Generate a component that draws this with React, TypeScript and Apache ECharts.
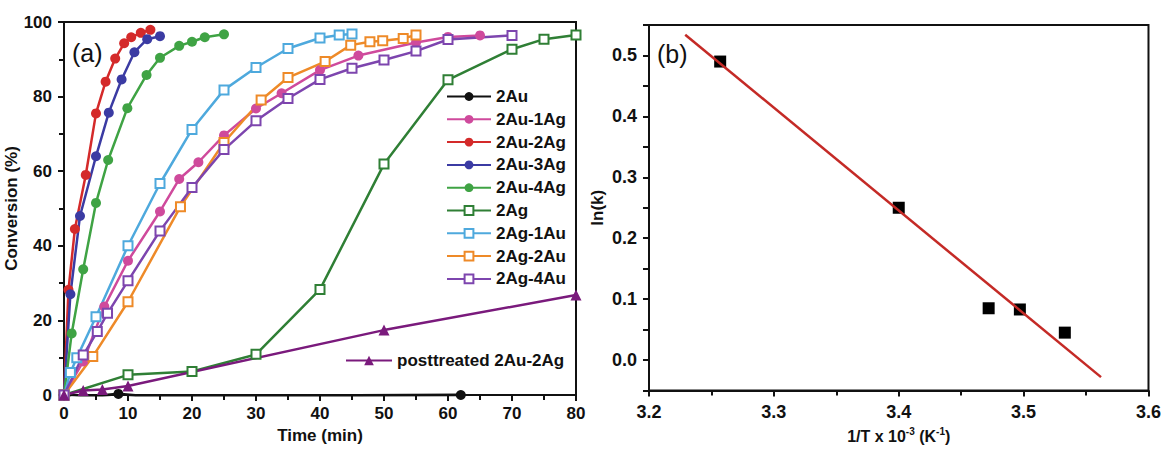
import React, { useEffect, useRef } from "react";
import * as echarts from "echarts";

// ---- Panel (a): conversion (%) vs time (min) ----
const S_2AU: number[][] = [[0, 0], [1.2, -0.9], [3.9, -0.5], [8.5, 0.3], [12.9, -0.4], [62, 0]];
const S_2AU_1AG: number[][] = [[0, 0], [3, 9], [6.3, 23.7], [10, 36], [15, 49.2], [18, 57.9], [21, 62.4], [25, 69.6], [30, 76.8], [34, 80.9], [40, 87.1], [46, 91], [55, 94.5], [60, 96], [65, 96.4]];
const S_2AU_2AG: number[][] = [[0, 0], [0.7, 28.2], [1.7, 44.5], [3.4, 59], [5, 75.5], [6.5, 84], [8, 90.2], [9.4, 94.3], [10.5, 95.9], [12, 97.1], [13.5, 97.9]];
const S_2AU_3AG: number[][] = [[0, 0], [1, 27], [2.5, 48], [5, 64], [7, 75.7], [9, 84.6], [11, 91.9], [13, 95.4], [15, 96.2]];
const S_2AU_4AG: number[][] = [[0, 0], [1.2, 16.5], [3, 33.7], [5, 51.5], [6.9, 63], [9.9, 76.9], [12.9, 85.8], [15, 90.4], [18, 93.6], [20, 94.7], [22, 95.9], [25, 96.7]];
const S_2AG: number[][] = [[0, 0], [10, 5.4], [20, 6.3], [30, 10.9], [40, 28.3], [50, 61.9], [60, 84.5], [70, 92.7], [75, 95.4], [80, 96.5]];
const S_2AG_1AU: number[][] = [[0, 0], [1, 6], [2, 10], [5, 21], [10, 40], [15, 56.7], [20, 71.2], [25, 81.8], [30, 87.8], [35, 92.9], [40, 95.7], [43, 96.5], [45, 96.8]];
const S_2AG_2AU: number[][] = [[0, 0], [4.5, 10.3], [10, 25], [18.2, 50.5], [25, 67.7], [30.8, 79.1], [35, 85.1], [40.8, 89.4], [44.8, 93.8], [47.8, 94.7], [49.8, 95], [53, 95.6], [55, 96.5]];
const S_2AG_4AU: number[][] = [[0, 0], [3, 10.7], [5.2, 17], [6.8, 21.9], [10, 30.6], [15, 44], [20, 55.6], [25, 65.8], [30, 73.5], [35, 79.5], [40, 84.6], [45, 87.6], [50, 89.8], [55, 92.2], [60, 95.3], [70, 96.4]];
const S_POST: number[][] = [[0, 0], [3, 1.2], [6, 1.5], [10, 2.4], [50, 17.4], [80, 26.8]];

const NAMES_A = ["2Au", "2Au-1Ag", "2Au-2Ag", "2Au-3Ag", "2Au-4Ag", "2Ag", "2Ag-1Au", "2Ag-2Au", "2Ag-4Au"];
const NAME_POST = "posttreated 2Au-2Ag";
const COLORS_A = ["#111111", "#cf4a9c", "#d42a2a", "#3b3ba3", "#3fa344", "#2f7f35", "#4ea9dd", "#ee8a28", "#7d45ae"];
const COLOR_POST = "#7a1a7c";
const DATA_A = [S_2AU, S_2AU_1AG, S_2AU_2AG, S_2AU_3AG, S_2AU_4AG, S_2AG, S_2AG_1AU, S_2AG_2AU, S_2AG_4AU];
const OPEN_A = [false, false, false, false, false, true, true, true, true];

// ---- Panel (b): Arrhenius plot ----
const INV_T = [3.257, 3.4, 3.472, 3.497, 3.533];
const LN_K = [0.49, 0.25, 0.085, 0.083, 0.045];
const FIT_X = [3.229, 3.562];
const FIT_Y = [0.534, -0.028];

const FONT = "Liberation Sans";
const INK = "#111111";

export default function App() {
  const ref = useRef<HTMLDivElement>(null);
  useEffect(() => {
    if (!ref.current) return;
    const chart = echarts.init(ref.current, undefined, { renderer: "svg" });

    const axisCommon = {
      axisLine: { show: true, onZero: false, lineStyle: { color: INK, width: 2 } },
      axisTick: { show: true, inside: false, length: 6, lineStyle: { color: INK, width: 2 } },
      minorTick: { show: true, splitNumber: 2, length: 5, lineStyle: { color: INK, width: 2 } },
      splitLine: { show: false },
      minorSplitLine: { show: false },
    };
    const labelStyle = { color: INK, fontFamily: FONT, fontWeight: "bold" as const, fontSize: 17 };
    const nameStyle = { color: INK, fontFamily: FONT, fontWeight: "bold" as const, fontSize: 17 };

    const seriesA: any[] = DATA_A.map((d, i) => ({
      name: NAMES_A[i],
      type: "line",
      xAxisIndex: 0,
      yAxisIndex: 0,
      data: d,
      color: COLORS_A[i],
      symbol: OPEN_A[i] ? "emptyRect" : "circle",
      symbolSize: OPEN_A[i] ? 9 : 10,
      showAllSymbol: true,
      lineStyle: { width: i === 0 ? 3 : 2.5, color: COLORS_A[i] },
      itemStyle: { color: COLORS_A[i], borderWidth: OPEN_A[i] ? 1.6 : 0 },
    }));
    seriesA.push({
      name: NAME_POST,
      type: "line",
      xAxisIndex: 0,
      yAxisIndex: 0,
      data: S_POST,
      color: COLOR_POST,
      symbol: "triangle",
      symbolSize: 11,
      lineStyle: { width: 2.5, color: COLOR_POST },
      itemStyle: { color: COLOR_POST },
    });

    const legendText = { color: INK, fontFamily: FONT, fontWeight: "bold", fontSize: 17, lineHeight: 17 };

    const option: any = {
      animation: false,
      backgroundColor: "#ffffff",
      textStyle: { fontFamily: FONT },
      grid: [
        { left: 64, top: 22, width: 512, height: 373, show: true, borderColor: INK, borderWidth: 2, backgroundColor: "transparent", containLabel: false },
        { left: 649, top: 25, width: 502, height: 374, show: true, borderColor: INK, borderWidth: 2, backgroundColor: "transparent", containLabel: false },
      ],
      xAxis: [
        {
          gridIndex: 0, type: "value", min: 0, max: 80, interval: 10,
          name: "Time (min)", nameLocation: "middle", nameGap: 32, nameTextStyle: nameStyle,
          axisLabel: { ...labelStyle, margin: 10 },
          ...axisCommon,
        },
        {
          gridIndex: 1, type: "value", min: 3.2, max: 3.6, interval: 0.1,
          name: "1/T x 10{sup|-3} (K{sup|-1})", nameLocation: "middle", nameGap: 36,
          nameTextStyle: { ...nameStyle, fontSize: 16, rich: { sup: { fontSize: 10, fontWeight: "bold", fontFamily: FONT, color: INK, padding: [0, 0, 9, 0] } } },
          axisLabel: { ...labelStyle, fontSize: 18, margin: 12, formatter: (v: number) => v.toFixed(1) },
          ...axisCommon,
        },
      ],
      yAxis: [
        {
          gridIndex: 0, type: "value", min: 0, max: 100, interval: 20,
          name: "Conversion (%)", nameLocation: "middle", nameGap: 36, nameRotate: 90, nameTextStyle: nameStyle,
          axisLabel: { ...labelStyle, margin: 12 },
          ...axisCommon,
        },
        {
          gridIndex: 1, type: "value", min: -0.05, max: 0.55, interval: 0.05,
          name: "ln(k)", nameLocation: "middle", nameGap: 43, nameRotate: 90, nameTextStyle: nameStyle,
          axisLabel: {
            ...labelStyle, fontSize: 18, margin: 12,
            formatter: (v: number) => {
              const t = Math.round(v * 100);
              return t % 10 === 0 ? (t / 100).toFixed(1) : "";
            },
          },
          ...axisCommon,
          minorTick: { show: false },
        },
      ],
      legend: [
        {
          data: NAMES_A, orient: "vertical", left: 446, top: 88, padding: 0,
          itemWidth: 44, itemHeight: 11, itemGap: 5.8,
          textStyle: legendText,
        },
        {
          data: [NAME_POST], orient: "vertical", left: 345, top: 352, padding: 0,
          itemWidth: 46, itemHeight: 12,
          textStyle: legendText,
        },
      ],
      graphic: [
        { type: "text", x: 72, y: 53, style: { text: "(a)", fontSize: 25, fontFamily: FONT, fill: INK, verticalAlign: "middle" } },
        { type: "text", x: 657, y: 54, style: { text: "(b)", fontSize: 25, fontFamily: FONT, fill: INK, verticalAlign: "middle" } },
      ],
      series: [
        ...seriesA,
        {
          name: "fit", type: "line", xAxisIndex: 1, yAxisIndex: 1,
          data: FIT_X.map((x, i) => [x, FIT_Y[i]]),
          symbol: "none", lineStyle: { color: "#c42a26", width: 2.5 }, z: 3,
        },
        {
          name: "ln k", type: "scatter", xAxisIndex: 1, yAxisIndex: 1,
          data: INV_T.map((x, i) => [x, LN_K[i]]),
          symbol: "rect", symbolSize: 12, itemStyle: { color: "#000000", opacity: 1 }, z: 2,
        },
      ],
    };
    chart.setOption(option);
    return () => chart.dispose();
  }, []);
  return <div ref={ref} style={{ position: "absolute", left: 0, top: 0, width: 1164, height: 449 }} />;
}
